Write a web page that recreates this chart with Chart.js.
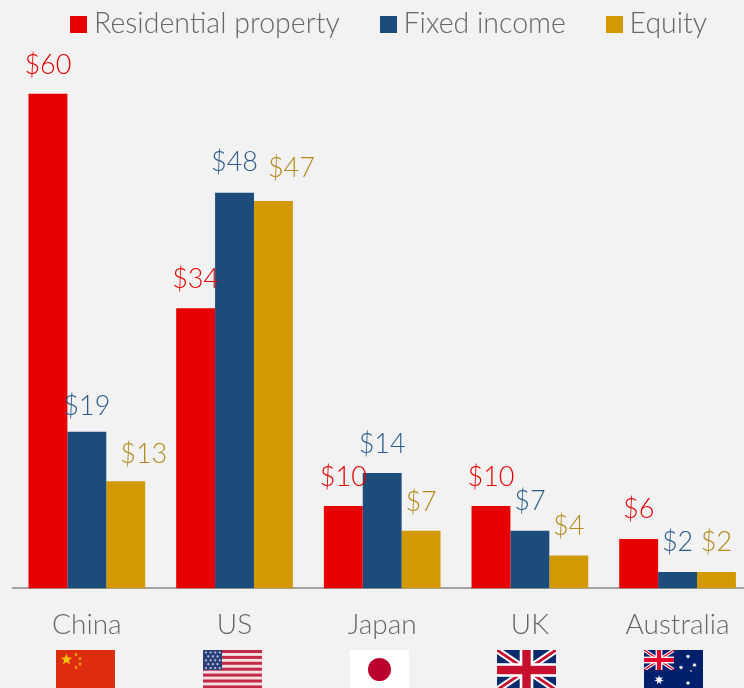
<!DOCTYPE html>
<html><head><meta charset="utf-8">
<style>html,body{margin:0;padding:0;background:#f2f2f2;overflow:hidden;width:744px;height:688px}
#w{position:relative;width:760px;height:688px}</style>
<script src="https://cdn.jsdelivr.net/npm/chart.js@4"></script></head>
<body><div id="w"><canvas id="c" width="760" height="688" style="width:760px;height:688px"></canvas></div>
<script>
const categories = ["China","US","Japan","UK","Australia"];
const residential = [60,34,10,10,6];
const fixedIncome = [19,48,14,7,2];
const equity = [13,47,7,4,2];
const FONT = 'Lato';
const BG = '#f2f2f2';
const labelColors = ['#e60000','#2b5c8e','#b28a1e'];
const labelNudges = [
  [[0,-3],[0,-3],[0,-3],[0,-3],[0,-4]],
  [[0,1],[0,-4],[0,-3],[0,-3],[0,-4]],
  [[18,-1],[18,-7],[0,-2],[0,-3],[0,-4]]
];
function star(ctx,x,y,r,n,col){
  n=n||5;ctx.fillStyle=col;ctx.beginPath();
  for(let i=0;i<n*2;i++){const a=-Math.PI/2+i*Math.PI/n,q=i%2?r*0.42:r;
    ctx[i?'lineTo':'moveTo'](x+q*Math.cos(a),y+q*Math.sin(a));}
  ctx.closePath();ctx.fill();
}
function union(ctx,x,y,w,h,navy,red){
  ctx.save();ctx.beginPath();ctx.rect(x,y,w,h);ctx.clip();
  ctx.fillStyle=navy;ctx.fillRect(x,y,w,h);
  const cx=x+w/2,cy=y+h/2;
  const diag=(col,lw)=>{ctx.strokeStyle=col;ctx.lineWidth=lw;ctx.beginPath();
    ctx.moveTo(x,y);ctx.lineTo(x+w,y+h);ctx.moveTo(x+w,y);ctx.lineTo(x,y+h);ctx.stroke();};
  diag('#fff',h*0.17);diag(red,h*0.07);
  ctx.fillStyle='#fff';ctx.fillRect(cx-h*0.17,y,h*0.34,h);ctx.fillRect(x,cy-h*0.17,w,h*0.34);
  ctx.fillStyle=red;ctx.fillRect(cx-h*0.105,y,h*0.21,h);ctx.fillRect(x,cy-h*0.105,w,h*0.21);
  ctx.restore();
}
const flagDrawers = {
  China(ctx,x,y,w,h){
    ctx.fillStyle='#de2c10';ctx.fillRect(x,y,w,h);
    star(ctx,x+10.5,y+9.5,6,5,'#f6c400');
    [[20,4.5],[24,8.5],[24,14],[20,17.5]].forEach(p=>star(ctx,x+p[0],y+p[1],2.2,5,'#f0a808'));
  },
  US(ctx,x,y,w,h){
    ctx.fillStyle='#f4dfe2';ctx.fillRect(x,y,w,h);
    ctx.fillStyle='#c22a48';
    for(let i=0;i<7;i++)ctx.fillRect(x,y+i*5.9,w,3);
    ctx.fillStyle='#2b3f78';ctx.fillRect(x,y,19,20);
    ctx.fillStyle='#b9c2da';
    for(let r=0;r<5;r++)for(let c=0;c<4-(r%2);c++){
      ctx.beginPath();ctx.arc(x+3+(r%2?2.3:0)+c*4.6,y+2.5+r*3.9,1.1,0,7);ctx.fill();}
  },
  Japan(ctx,x,y,w,h){
    ctx.fillStyle='#fff';ctx.fillRect(x,y,w,h);
    ctx.fillStyle='#bc002d';ctx.beginPath();ctx.arc(x+w/2,y+19.5,11.5,0,7);ctx.fill();
  },
  UK(ctx,x,y,w,h){union(ctx,x,y,w,h,'#0a2a6e','#c8102e');},
  Australia(ctx,x,y,w,h){
    ctx.fillStyle='#00206b';ctx.fillRect(x,y,w,h);
    union(ctx,x,y,30,20,'#00206b','#e4002b');
    star(ctx,x+15,y+30,5,7,'#fff');
    [[44,6.5],[37,17.5],[50.5,15],[44,33]].forEach(p=>star(ctx,x+p[0],y+p[1],2.6,7,'#fff'));
    star(ctx,x+47,y+21,1.2,5,'#fff');
  }
};
const flagNudge = [-1.4,-2.4,-2.9,-3.4,-4];
const overlay = {
  id:'overlay',
  afterLayout(chart){ chart.legend.left+=10; chart.legend.right+=10; },
  afterDatasetsDraw(chart){
    const ctx=chart.ctx;ctx.save();
    ctx.font='300 27px '+FONT;ctx.textAlign='center';ctx.textBaseline='middle';
    chart.data.datasets.forEach((ds,i)=>{
      chart.getDatasetMeta(i).data.forEach((bar,j)=>{
        const n=labelNudges[i][j];
        ctx.fillStyle=labelColors[i];
        ctx.fillText('$'+ds.data[j],bar.x+n[0],bar.y-26+n[1]);
      });
    });
    ctx.restore();
  },
  afterDraw(chart){
    const ctx=chart.ctx,sx=chart.scales.x;
    categories.forEach((c,i)=>{
      const w=59,h=40,x=Math.round(sx.getPixelForTick(i)+flagNudge[i]-w/2),y=650;
      ctx.save();flagDrawers[c](ctx,x,y,w,h);ctx.restore();
    });
  }
};
function swatch(col){
  const s=document.createElement('canvas');s.width=17;s.height=17;
  const g=s.getContext('2d');g.fillStyle=col;g.fillRect(0,0,17,17);return s;
}
const barColors=['#e60000','#1c4c7c','#d29a00'];
Chart.defaults.animation=false;
new Chart(document.getElementById('c'),{
  type:'bar',
  data:{labels:categories,datasets:[
    {label:'Residential property',data:residential,backgroundColor:barColors[0],pointStyle:swatch(barColors[0])},
    {label:'Fixed income',data:fixedIncome,backgroundColor:barColors[1],pointStyle:swatch(barColors[1])},
    {label:'Equity',data:equity,backgroundColor:barColors[2],pointStyle:swatch(barColors[2])}
  ]},
  plugins:[{id:'bg',beforeDraw(ch){ch.ctx.fillStyle=BG;ch.ctx.fillRect(0,0,ch.width,ch.height);}},overlay],
  options:{
    responsive:false,maintainAspectRatio:false,
    layout:{padding:{left:13,right:8.6,top:-37,bottom:26}},
    datasets:{bar:{categoryPercentage:0.79,barPercentage:1}},
    plugins:{
      legend:{position:'top',align:'center',
        labels:{usePointStyle:true,boxWidth:2.5,boxHeight:17,pointStyleWidth:2.5,padding:47,color:'#666',font:{family:FONT,size:28.5,weight:'300'},
          generateLabels(ch){return ch.data.datasets.map((d,i)=>({text:d.label,fillStyle:d.backgroundColor,strokeStyle:d.backgroundColor,lineWidth:0,pointStyle:d.pointStyle,datasetIndex:i,fontColor:'#666'}));}}},
      tooltip:{enabled:false}
    },
    scales:{
      x:{grid:{display:false,drawTicks:false},border:{display:true,color:'#a3a3a3',width:2},
        ticks:{color:'#666',padding:20,maxRotation:0,font:{family:FONT,size:28,weight:'300'}}},
      y:{display:false,min:0,max:65.5}
    }
  }
});
</script></body></html>
